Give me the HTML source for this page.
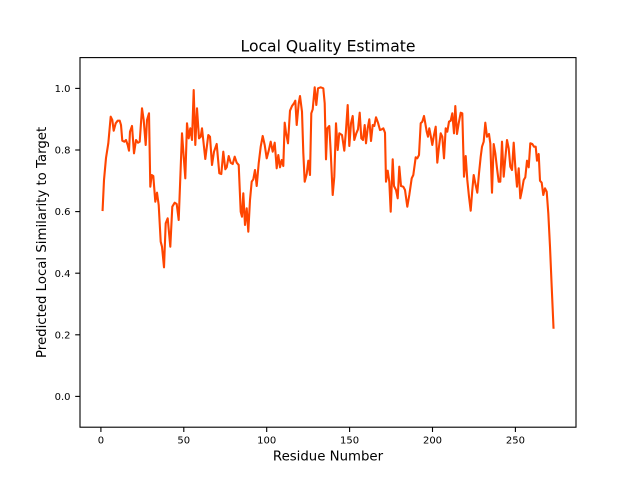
<!DOCTYPE html>
<html>
<head>
<meta charset="utf-8">
<style>
html,body{margin:0;padding:0;background:#fff;}
svg{display:block;}
text{font-family:"DejaVu Sans","Liberation Sans",sans-serif;fill:#000;}
</style>
</head>
<body>
<svg width="640" height="480" viewBox="0 0 640 480" xmlns="http://www.w3.org/2000/svg">
<rect x="0" y="0" width="640" height="480" fill="#fff"/>
<defs><clipPath id="c"><rect x="80" y="57.6" width="496" height="369.6"/></clipPath></defs>
<polyline clip-path="url(#c)" fill="none" stroke="#ff4500" stroke-width="2.1" stroke-linejoin="round" stroke-linecap="square" points="102.6,210 104,180 106,158 108.3,143.3 110.7,116.7 112.3,120 113.7,130.7 115.7,123.3 117.7,120.7 119.7,120.7 121,125 122.3,140.7 124.3,141.7 126,140 127.7,145 129,150.7 130,131.7 132,126 134,153.3 136,140 138,142.7 139.7,141.7 142,108.3 143.7,120 145.7,145 147,120 149,113.3 150.3,186.7 151.7,175 153.3,176 155.3,201.7 157,192.7 158.7,205 160.7,241.7 162,246.7 164,267.3 165.7,223.3 167.7,218.3 170.3,246.7 172.3,206.7 174.7,202.7 176.7,204 178.7,220 182,133.3 185.3,178.3 187,123.3 188.7,138.3 190.3,128.3 192,140 193.7,90 195.3,145 197,108.3 199,138.3 200.7,136.7 202,128.3 205.3,159 208.3,135 210,136.7 212,165 214,151.7 216.7,144 219.3,173.3 221.3,174 223.3,151.7 225.3,169.3 226.7,167.3 228.7,156 230.7,162.7 232.7,164 234.7,156.7 236.7,162.7 238.7,165 240.7,211.7 242,216.7 243.3,193.3 245,225 246.7,208.3 248.3,231.7 250,200 251.7,181.7 253.3,179.3 255,170 256.7,186 258.7,163.3 260.7,146.7 262.7,136 264.7,145 266.7,158.3 268.7,150.7 270.7,141.7 272.7,151.7 274.7,142.7 276.7,168.3 278.3,155 280,167.3 281.7,160 283.3,166 284.7,122.7 286,132.7 288,143.3 290,110.7 292,106 294,103.3 295.3,100.7 296.7,125 298.7,103.3 300,96 302,111.7 303.3,152.7 304.7,181.7 306.7,174 308.3,160.7 310,175 311.3,113.3 312.7,109.3 314.7,87.3 316.3,105 318,88.3 320.7,87.3 323.3,88.3 324.7,103.3 326,159.3 327.3,128.3 329.3,126 330.7,151.7 332.7,195 334.3,176.7 336,123.3 337.7,150 339.3,133.3 342,135 344.3,150.7 346,130 347.7,105 349.3,146 351,123.3 352.7,116 354.3,140 356.3,133.3 358,129.3 359.7,112.7 361.3,138.3 363,140 364.7,125 366,143.3 367.7,128.3 369.3,119.3 371,141 372.7,125 374.3,126 376,117.3 378,122.7 380,130 382,129.3 383.3,128.3 385,132.7 386,181.7 387.7,170.7 389.3,181.7 390.7,211.7 392.7,159.3 394,186 396,190 397.7,198.3 399.3,166.7 401,186 403.3,186.7 405,190 407.3,206.7 409.3,195 411.7,178.3 413.3,175 415.7,157.3 417.3,158.3 419,155 420.7,123.3 422.3,121.7 424,116 425.3,123.3 426.7,131.7 428,136.7 429.3,128.3 431,137.3 432.3,145 434,135 435.7,126.7 437.3,162.7 439,146.7 440.7,133.3 442.3,136.7 444,158.3 445.7,128.3 447.3,131.7 449,121.7 450.7,120.7 452.3,113.3 454,133.3 455.3,106 457,134 458.7,123.3 460.7,112.7 462.3,113.3 464,176.7 465.7,156 467.3,180 469,196.7 470.7,210.7 472.3,190 473.7,175 475.3,183.3 477.3,192.7 479,173.3 480.7,156.7 482,146.7 483.7,141.7 485.3,122.7 487,136.7 489,134 490.3,143.3 492,192.7 493.7,144 495.3,153.3 497,168.3 498.7,181.7 500.3,181.7 502,141.7 503.7,176.7 505.3,158.3 507,140 508.7,148.3 510.3,166.7 512,170 513.7,142.7 515.3,166.7 517,186.7 518.7,168.3 520.3,198.3 522,190 523.7,180 525.3,177.3 527,160.7 528.7,167.3 530.3,143.3 532.3,144 534,146.7 535.7,146.7 537,160.7 538.7,154 540,180.7 541.7,182.7 543.3,195 545,188.3 546.7,191.7 548.3,213.3 550,246.7 551.7,286.7 553.5,327.7"/>
<rect x="80" y="57.6" width="496" height="369.6" fill="none" stroke="#000" stroke-width="1.1"/>
<g stroke="#000" stroke-width="1.1">
<line x1="100.9" y1="427.2" x2="100.9" y2="432"/>
<line x1="183.8" y1="427.2" x2="183.8" y2="432"/>
<line x1="266.7" y1="427.2" x2="266.7" y2="432"/>
<line x1="349.6" y1="427.2" x2="349.6" y2="432"/>
<line x1="432.5" y1="427.2" x2="432.5" y2="432"/>
<line x1="515.4" y1="427.2" x2="515.4" y2="432"/>
<line x1="75.2" y1="396.4" x2="80" y2="396.4"/>
<line x1="75.2" y1="334.8" x2="80" y2="334.8"/>
<line x1="75.2" y1="273.2" x2="80" y2="273.2"/>
<line x1="75.2" y1="211.6" x2="80" y2="211.6"/>
<line x1="75.2" y1="150" x2="80" y2="150"/>
<line x1="75.2" y1="88.4" x2="80" y2="88.4"/>
</g>
<g font-size="10" text-anchor="middle">
<text x="100.9" y="443.5">0</text>
<text x="183.8" y="443.5">50</text>
<text x="266.7" y="443.5">100</text>
<text x="349.6" y="443.5">150</text>
<text x="432.5" y="443.5">200</text>
<text x="515.4" y="443.5">250</text>
</g>
<g font-size="10" text-anchor="end">
<text x="70.5" y="400">0.0</text>
<text x="70.5" y="338.4">0.2</text>
<text x="70.5" y="276.8">0.4</text>
<text x="70.5" y="215.2">0.6</text>
<text x="70.5" y="153.6">0.8</text>
<text x="70.5" y="92">1.0</text>
</g>
<text x="328" y="51.3" font-size="15.6" text-anchor="middle">Local Quality Estimate</text>
<text x="328" y="460.3" font-size="13.3" text-anchor="middle">Residue Number</text>
<text x="0" y="0" font-size="13.3" text-anchor="middle" transform="translate(46,242.4) rotate(-90)">Predicted Local Similarity to Target</text>
</svg>
</body>
</html>
